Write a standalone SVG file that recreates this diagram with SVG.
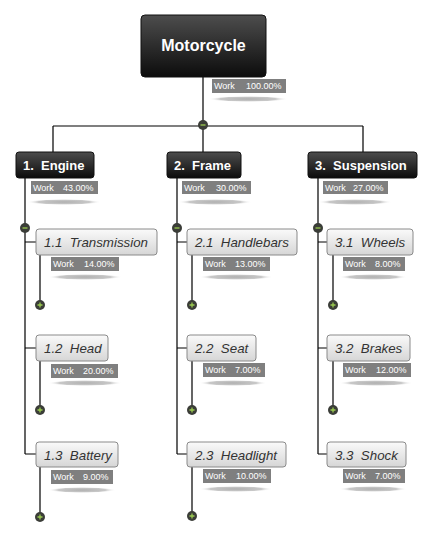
<svg xmlns="http://www.w3.org/2000/svg" width="432" height="537" viewBox="0 0 432 537">
<defs>
<linearGradient id="dark" x1="0" y1="0" x2="0" y2="1">
<stop offset="0" stop-color="#4d4d4d"/>
<stop offset="1" stop-color="#0c0c0c"/>
</linearGradient>
<linearGradient id="light" x1="0" y1="0" x2="0" y2="1">
<stop offset="0" stop-color="#fafafa"/>
<stop offset="1" stop-color="#d6d6d6"/>
</linearGradient>
<radialGradient id="shadow" cx="0.5" cy="0.5" r="0.5">
<stop offset="0" stop-color="#b0b0b0"/>
<stop offset="0.7" stop-color="#c8c8c8"/>
<stop offset="1" stop-color="#ffffff" stop-opacity="0"/>
</radialGradient>
</defs>
<style>
text{white-space:pre}
.dk{fill:url(#dark);stroke:#111;stroke-width:1}
.lt{fill:url(#light);stroke:#8a8a8a;stroke-width:1}
.t0{font-family:"Liberation Sans",Arial,sans-serif;font-weight:bold;font-size:16px;fill:#fff}
.t1{font-family:"Liberation Sans",Arial,sans-serif;font-weight:bold;font-size:13px;fill:#fff}
.t2{font-family:"Liberation Sans",Arial,sans-serif;font-style:italic;font-size:13.3px;fill:#333}
.wk{fill:#7f7f7f}
.wt{font-family:"Liberation Sans",Arial,sans-serif;font-size:9px;fill:#fff}
.sh{fill:url(#shadow)}
.ln{stroke:#000;stroke-width:1.2;fill:none}
.bt{fill:#3b3d38}
.sg{stroke:#9ccc50;stroke-width:1.3}
</style>
<g id="connectors">
<path class="ln" d="M203 77V126M53 126H363M53 126V152M203 126V152M363 126V152"/>
<path class="ln" d="M25 178V454M25 242H36M25 348H36M25 454H36"/>
<path class="ln" d="M177 178V454M177 242H187M177 348H187M177 454H187"/>
<path class="ln" d="M318 178V454M318 242H327M318 348H327M318 454H327"/>
<path class="ln" d="M40 255V305M40 361V410M40 467V517"/>
<path class="ln" d="M192 255V305M192 361V410M192 467V516"/>
<path class="ln" d="M333 255V305M333 361V410"/>
</g>
<g id="buttons">
<circle class="bt" cx="203" cy="125" r="5"/><path class="sg" d="M200.5 125H205.5"/>
<circle class="bt" cx="25" cy="228" r="5"/><path class="sg" d="M22.5 228H27.5"/>
<circle class="bt" cx="177" cy="228" r="5"/><path class="sg" d="M174.5 228H179.5"/>
<circle class="bt" cx="318" cy="228" r="5"/><path class="sg" d="M315.5 228H320.5"/>
<circle class="bt" cx="40" cy="305" r="5"/><path class="sg" d="M37.5 305H42.5M40 302.5V307.5"/>
<circle class="bt" cx="40" cy="410" r="5"/><path class="sg" d="M37.5 410H42.5M40 407.5V412.5"/>
<circle class="bt" cx="40" cy="517" r="5"/><path class="sg" d="M37.5 517H42.5M40 514.5V519.5"/>
<circle class="bt" cx="192" cy="305" r="5"/><path class="sg" d="M189.5 305H194.5M192 302.5V307.5"/>
<circle class="bt" cx="192" cy="410" r="5"/><path class="sg" d="M189.5 410H194.5M192 407.5V412.5"/>
<circle class="bt" cx="192" cy="516" r="5"/><path class="sg" d="M189.5 516H194.5M192 513.5V518.5"/>
<circle class="bt" cx="333" cy="305" r="5"/><path class="sg" d="M330.5 305H335.5M333 302.5V307.5"/>
<circle class="bt" cx="333" cy="410" r="5"/><path class="sg" d="M330.5 410H335.5M333 407.5V412.5"/>
</g>
<g id="root">
<rect class="dk" x="141" y="15" width="125" height="62" rx="4"/>
<text class="t0" x="203.5" y="51" text-anchor="middle">Motorcycle</text>
<ellipse class="sh" cx="248" cy="99" rx="40" ry="3"/>
<rect class="wk" x="212" y="79" width="74" height="14"/>
<text class="wt" x="214" y="89">Work</text><text class="wt" x="281.5" y="89" text-anchor="end">100.00%</text>
</g>
<g id="n1">
<rect class="dk" x="16" y="152" width="78" height="26" rx="3"/>
<text class="t1" x="23" y="170">1.  Engine</text>
<ellipse class="sh" cx="64" cy="202" rx="37" ry="3"/>
<rect class="wk" x="31" y="181" width="67" height="13"/>
<text class="wt" x="33" y="190.5">Work</text><text class="wt" x="93.5" y="190.5" text-anchor="end">43.00%</text>
</g>
<g id="n2">
<rect class="dk" x="167" y="152" width="74" height="26" rx="3"/>
<text class="t1" x="174" y="170">2.  Frame</text>
<ellipse class="sh" cx="215" cy="202" rx="37" ry="3"/>
<rect class="wk" x="182" y="181" width="69" height="13"/>
<text class="wt" x="184" y="190.5">Work</text><text class="wt" x="246.5" y="190.5" text-anchor="end">30.00%</text>
</g>
<g id="n3">
<rect class="dk" x="308" y="152" width="109" height="26" rx="3"/>
<text class="t1" x="315" y="170">3.  Suspension</text>
<ellipse class="sh" cx="355" cy="202" rx="37" ry="3"/>
<rect class="wk" x="323" y="181" width="65" height="13"/>
<text class="wt" x="325" y="190.5">Work</text><text class="wt" x="383.5" y="190.5" text-anchor="end">27.00%</text>
</g>
<g id="n1-1">
<rect class="lt" x="36" y="229" width="121" height="26" rx="3"/>
<text class="t2" x="44" y="247">1.1  Transmission</text>
<ellipse class="sh" cx="85" cy="277" rx="37" ry="3"/>
<rect class="wk" x="51" y="257" width="68" height="14"/>
<text class="wt" x="53" y="267">Work</text><text class="wt" x="114.5" y="267" text-anchor="end">14.00%</text>
</g>
<g id="n1-2">
<rect class="lt" x="36" y="335" width="72" height="26" rx="3"/>
<text class="t2" x="44" y="353">1.2  Head</text>
<ellipse class="sh" cx="85" cy="383" rx="37" ry="3"/>
<rect class="wk" x="51" y="364" width="67" height="14"/>
<text class="wt" x="53" y="374">Work</text><text class="wt" x="113.5" y="374" text-anchor="end">20.00%</text>
</g>
<g id="n1-3">
<rect class="lt" x="36" y="442" width="82" height="25" rx="3"/>
<text class="t2" x="44" y="460">1.3  Battery</text>
<ellipse class="sh" cx="82" cy="490" rx="34" ry="3"/>
<rect class="wk" x="51" y="470" width="62" height="14"/>
<text class="wt" x="53" y="480">Work</text><text class="wt" x="108.5" y="480" text-anchor="end">9.00%</text>
</g>
<g id="n2-1">
<rect class="lt" x="187" y="229" width="110" height="26" rx="3"/>
<text class="t2" x="195" y="247">2.1  Handlebars</text>
<ellipse class="sh" cx="236" cy="277" rx="37" ry="3"/>
<rect class="wk" x="203" y="257" width="67" height="14"/>
<text class="wt" x="205" y="267">Work</text><text class="wt" x="265.5" y="267" text-anchor="end">13.00%</text>
</g>
<g id="n2-2">
<rect class="lt" x="187" y="335" width="69" height="26" rx="3"/>
<text class="t2" x="195" y="353">2.2  Seat</text>
<ellipse class="sh" cx="233" cy="383" rx="34" ry="3"/>
<rect class="wk" x="203" y="363" width="62" height="14"/>
<text class="wt" x="205" y="373">Work</text><text class="wt" x="260.5" y="373" text-anchor="end">7.00%</text>
</g>
<g id="n2-3">
<rect class="lt" x="187" y="442" width="99" height="25" rx="3"/>
<text class="t2" x="195" y="460">2.3  Headlight</text>
<ellipse class="sh" cx="236" cy="489" rx="37" ry="3"/>
<rect class="wk" x="203" y="469" width="68" height="14"/>
<text class="wt" x="205" y="479">Work</text><text class="wt" x="266.5" y="479" text-anchor="end">10.00%</text>
</g>
<g id="n3-1">
<rect class="lt" x="327" y="229" width="86" height="26" rx="3"/>
<text class="t2" x="335" y="247">3.1  Wheels</text>
<ellipse class="sh" cx="373" cy="277" rx="34" ry="3"/>
<rect class="wk" x="343" y="257" width="62" height="14"/>
<text class="wt" x="345" y="267">Work</text><text class="wt" x="400.5" y="267" text-anchor="end">8.00%</text>
</g>
<g id="n3-2">
<rect class="lt" x="327" y="335" width="83" height="26" rx="3"/>
<text class="t2" x="335" y="353">3.2  Brakes</text>
<ellipse class="sh" cx="376" cy="383" rx="37" ry="3"/>
<rect class="wk" x="343" y="363" width="68" height="14"/>
<text class="wt" x="345" y="373">Work</text><text class="wt" x="406.5" y="373" text-anchor="end">12.00%</text>
</g>
<g id="n3-3">
<rect class="lt" x="327" y="442" width="79" height="25" rx="3"/>
<text class="t2" x="335" y="460">3.3  Shock</text>
<ellipse class="sh" cx="373" cy="489" rx="34" ry="3"/>
<rect class="wk" x="343" y="469" width="62" height="14"/>
<text class="wt" x="345" y="479">Work</text><text class="wt" x="400.5" y="479" text-anchor="end">7.00%</text>
</g>
</svg>
